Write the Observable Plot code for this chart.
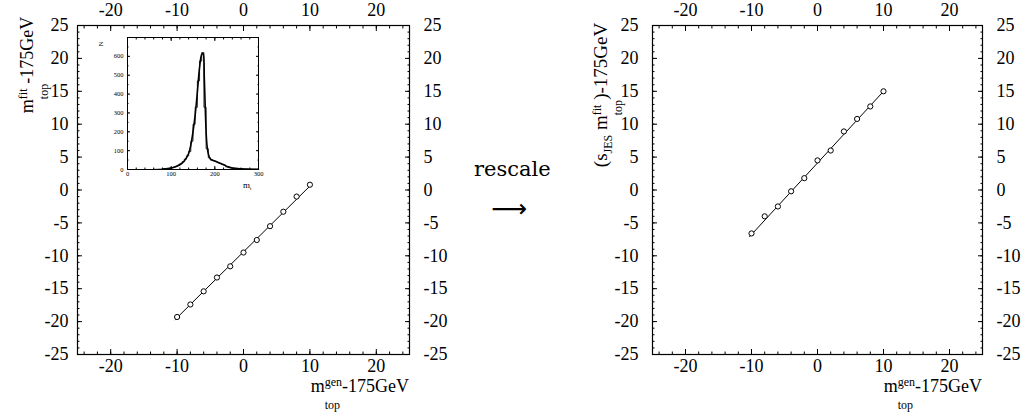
<!DOCTYPE html>
<html><head><meta charset="utf-8">
<script src="https://cdn.jsdelivr.net/npm/d3@7"></script>
<script src="https://cdn.jsdelivr.net/npm/@observablehq/plot@0.6"></script>
<style>
body{margin:0;background:#fff;}
#wrap{position:relative;width:1023px;height:414px;overflow:hidden;font-family:"Liberation Serif",serif;color:#000;}
#wrap svg{position:absolute;overflow:visible;}
svg text{font-family:"Liberation Serif",serif !important;}
.lbl{position:absolute;font-size:18px;line-height:18px;white-space:nowrap;}
.ss{display:inline-grid;font-size:12px;line-height:12px;vertical-align:baseline;}
.ss>span{grid-area:1/1;position:relative;}
.sp{top:-6px;}
.sb{top:17px;}
.rot{transform:translate(-50%,-50%) rotate(-90deg);}
.rot .sb{top:15px;}
</style></head>
<body><div id="wrap"></div>
<script>
// ---- data ----
const mGen = [-10, -8, -6, -4, -2, 0, 2, 4, 6, 8, 10];
const mFit = [-19.3, -17.4, -15.4, -13.3, -11.6, -9.5, -7.6, -5.5, -3.3, -1.0, 0.8];
const mRescaled = [-6.6, -4.0, -2.5, -0.2, 1.8, 4.5, 6.0, 8.9, 10.8, 12.7, 15.0];
const fitX = [-10.3, 10.1];
const fitLeftY = [-19.7, 0.7];
const fitRightY = [-7.1, 15.1];
const xTickLabels = [-20, -10, 0, 10, 20];
const yTickLabels = [-25, -20, -15, -10, -5, 0, 5, 10, 15, 20, 25];
// inset histogram (top mass, 5 GeV bins, lower edges)
const binLow = [60,65,70,75,80,85,90,95,100,105,110,115,120,125,130,135,140,145,150,155,160,165,170,175,180,185,190,195,200,205,210,215,220,225,230,235,240,245,250,255,260,265,270,275,280,285,290,295];
const binCount = [1,1,2,2,3,4,5,7,9,13,18,24,32,42,55,72,95,150,240,330,470,575,620,330,110,62,50,46,43,38,33,28,24,14,10,8,7,6,5,5,4,3,3,2,2,1,1,1];
const curveM = [80,100,110,120,130,140,145,150,155,160,165,170,173,176,179,182,186,190,200,210,220,230,240,260,300];
const curveN = [2,8,15,25,45,85,130,200,290,410,540,610,615,480,260,130,75,55,45,35,25,14,8,4,1];
const insetXTicks = [0, 100, 200, 300];
const insetYTicks = [0, 100, 200, 300, 400, 500, 600];

const wrap = document.getElementById("wrap");
const fmt = d => String(d);

function styleText(svg, size) {
  d3.select(svg).selectAll("text")
    .style("font-family", "'Liberation Serif', serif")
    .style("font-size", size + "px")
    .attr("fill", "#000");
}

function panel(yv, fitY, width, frameW, leftPad, left) {
  const pts = mGen.map((x, i) => ({x, y: yv[i]}));
  const fit = fitX.map((x, i) => ({x, y: fitY[i]}));
  const svg = Plot.plot({
    width, height: 414, marginLeft: 77, marginRight: width - 77 - frameW, marginTop: 25, marginBottom: 60,
    x: {domain: [-25, 25]}, y: {domain: [-25, 25]},
    style: {background: "transparent", color: "#000"},
    marks: [
      Plot.axisX(xTickLabels, {anchor: "bottom", tickSize: -5, tickPadding: 10, tickFormat: fmt, label: null, stroke: "#000"}),
      Plot.axisX(xTickLabels, {anchor: "top", tickSize: -5, tickPadding: 15, tickFormat: fmt, label: null, stroke: "#000"}),
      Plot.axisX(d3.range(-24, 25, 2), {anchor: "bottom", tickSize: -2.5, tickFormat: () => "", label: null}),
      Plot.axisX(d3.range(-24, 25, 2), {anchor: "top", tickSize: -2.5, tickFormat: () => "", label: null}),
      Plot.axisY(yTickLabels, {anchor: "left", tickSize: -5, tickPadding: leftPad, tickFormat: fmt, label: null, stroke: "#000"}),
      Plot.axisY(yTickLabels, {anchor: "right", tickSize: -5, tickPadding: 19, tickFormat: fmt, label: null, stroke: "#000"}),
      Plot.axisY(d3.range(-24, 25, 1), {anchor: "left", tickSize: -2.5, tickFormat: () => "", label: null}),
      Plot.axisY(d3.range(-24, 25, 1), {anchor: "right", tickSize: -2.5, tickFormat: () => "", label: null}),
      Plot.frame({stroke: "#000", strokeWidth: 1.2}),
      Plot.line(fit, {x: "x", y: "y", stroke: "#000", strokeWidth: 1}),
      Plot.dot(pts, {x: "x", y: "y", r: 2.6, stroke: "#000", strokeWidth: 1, fill: "#fff"})
    ]
  });
  styleText(svg, 18);
  svg.style.left = left + "px";
  svg.style.top = "0px";
  wrap.appendChild(svg);
}

panel(mFit, fitLeftY, 470, 332, 14, 0);
panel(mRescaled, fitRightY, 468, 330, 19, 575);

// inset
{
  const hist = binLow.map((m, i) => ({m, n: binCount[i]}));
  hist.push({m: 300, n: binCount[binCount.length - 1]});
  const curve = curveM.map((m, i) => ({m, n: curveN[i]}));
  const svg = Plot.plot({
    width: 176, height: 162, marginLeft: 30, marginRight: 15, marginTop: 10, marginBottom: 20,
    x: {domain: [0, 300]}, y: {domain: [0, 700]},
    style: {background: "transparent", color: "#000"},
    marks: [
      Plot.axisX(insetXTicks, {anchor: "bottom", tickSize: -3, tickPadding: 5, tickFormat: fmt, label: null}),
      Plot.axisX(insetXTicks, {anchor: "top", tickSize: -3, tickFormat: () => "", label: null}),
      Plot.axisX(d3.range(20, 300, 20), {anchor: "bottom", tickSize: -1.5, tickFormat: () => "", label: null}),
      Plot.axisX(d3.range(20, 300, 20), {anchor: "top", tickSize: -1.5, tickFormat: () => "", label: null}),
      Plot.axisY(insetYTicks, {anchor: "left", tickSize: -3, tickPadding: 7, tickFormat: fmt, label: null}),
      Plot.axisY(insetYTicks, {anchor: "right", tickSize: -3, tickFormat: () => "", label: null}),
      Plot.axisY(d3.range(50, 700, 50), {anchor: "left", tickSize: -1.5, tickFormat: () => "", label: null}),
      Plot.axisY(d3.range(50, 700, 50), {anchor: "right", tickSize: -1.5, tickFormat: () => "", label: null}),
      Plot.frame({stroke: "#000", strokeWidth: 1}),
      Plot.line(hist, {x: "m", y: "n", curve: "step-after", stroke: "#000", strokeWidth: 0.8}),
      Plot.line(curve, {x: "m", y: "n", curve: "catmull-rom", stroke: "#000", strokeWidth: 1.6})
    ]
  });
  styleText(svg, 6.5);
  svg.style.left = "97px";
  svg.style.top = "27px";
  wrap.appendChild(svg);
}

function addLabel(html, css, cls) {
  const d = document.createElement("div");
  d.className = "lbl" + (cls ? " " + cls : "");
  d.innerHTML = html;
  Object.assign(d.style, css);
  wrap.appendChild(d);
  return d;
}
const ss = (a, b) => `<span class="ss"><span class="sp">${a}</span><span class="sb">${b}</span></span>`;

addLabel(`m${ss("gen", "top")}-175GeV`, {right: (1023 - 409) + "px", top: "377px"});
addLabel(`m${ss("gen", "top")}-175GeV`, {right: (1023 - 982) + "px", top: "377px"});
addLabel(`m${ss("fit", "top")}-175GeV`, {left: "27px", top: "65px"}, "rot");
addLabel(`(s<span style="font-size:12px;position:relative;top:5px">JES</span> m${ss("fit", "top")})-175GeV`, {left: "602px", top: "95px", fontSize: "19px"}, "rot");

// inset labels
addLabel(`N`, {left: "101px", top: "44px", fontSize: "7px", lineHeight: "7px"}, "rot");
addLabel(`m<span style="font-size:5px;position:relative;top:2px">t</span>`, {left: "243px", top: "181px", fontSize: "9px", lineHeight: "9px"});

// middle
addLabel(`rescale`, {left: "474px", top: "157px", fontFamily: "DejaVu Serif", fontSize: "21px", lineHeight: "24px"});
addLabel(`⟶`, {left: "491px", top: "197px", fontFamily: "DejaVu Sans", fontSize: "25px", lineHeight: "24px"});
</script>
</body></html>
